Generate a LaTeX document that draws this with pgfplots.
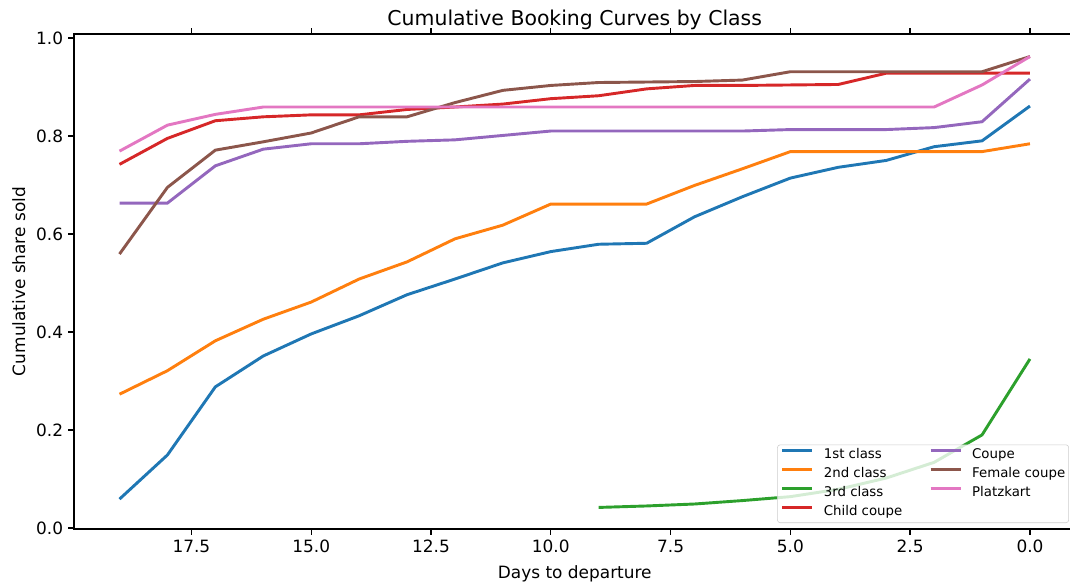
\documentclass[border=0pt]{standalone}
\usepackage{pgfplots}
\usepackage{pgfplotstable}
\pgfplotsset{compat=1.18}
\usepackage{fontspec}
\setmainfont{DejaVu Sans}
\definecolor{tabblue}{HTML}{1F77B4}
\definecolor{taborange}{HTML}{FF7F0E}
\definecolor{tabgreen}{HTML}{2CA02C}
\definecolor{tabred}{HTML}{D62728}
\definecolor{tabpurple}{HTML}{9467BD}
\definecolor{tabbrown}{HTML}{8C564B}
\definecolor{tabpink}{HTML}{E377C2}
\pgfplotstableread{
d first second third child coupe female platz
19 0.059 0.273 nan 0.742 0.663 0.559 0.769
18 0.149 0.321 nan 0.795 0.663 0.695 0.822
17 0.288 0.382 nan 0.831 0.739 0.771 0.844
16 0.351 0.426 nan 0.839 0.773 0.788 0.859
15 0.396 0.461 nan 0.843 0.784 0.806 0.859
14 0.433 0.508 nan 0.843 0.784 0.839 0.859
13 0.476 0.543 nan 0.854 0.789 0.839 0.859
12 0.508 0.590 nan 0.859 0.792 0.868 0.859
11 0.541 0.618 nan 0.865 0.801 0.893 0.859
10 0.564 0.661 nan 0.876 0.810 0.903 0.859
9 0.579 0.661 0.042 0.882 0.810 0.909 0.859
8 0.581 0.661 0.045 0.896 0.810 0.910 0.859
7 0.635 0.699 0.049 0.903 0.810 0.911 0.859
6 0.676 0.733 0.056 0.903 0.810 0.914 0.859
5 0.714 0.768 0.064 0.904 0.813 0.931 0.859
4 0.736 0.768 0.079 0.905 0.813 0.931 0.859
3 0.750 0.768 0.102 0.928 0.813 0.931 0.859
2 0.778 0.768 0.134 0.928 0.817 0.931 0.859
1 0.790 0.768 0.190 0.928 0.829 0.931 0.904
0 0.861 0.784 0.345 0.928 0.916 0.962 0.962
}\booking
\begin{document}
\begin{tikzpicture}
\begin{axis}[
  scale only axis, width=721.08pt, height=356.4pt,
  at={(0,0)}, anchor=south west,
  x dir=reverse, xmin=-0.95, xmax=19.95, ymin=-0.002, ymax=1.008,
  xtick={0,2.5,5,7.5,10,12.5,15,17.5}, ytick={0,0.2,0.4,0.6,0.8,1.0},
  tick align=outside, major tick length=4.3pt,
  tick style={line width=0.98pt, black},
  axis line style={line width=0.98pt},
  ticklabel style={font=\fontsize{12.2}{14}\selectfont},
  /pgf/number format/.cd, fixed, fixed zerofill, precision=1, assume math mode=true,
  /pgfplots/.cd,
  every axis title shift=0pt,
  title={Cumulative Booking Curves by Class},
  title style={at={(axis description cs:0.5,1.018)}, anchor=base, font=\fontsize{14.7}{17}\selectfont},
  xlabel={Days to departure},
  xlabel style={at={(axis description cs:0.5,-0.101)}, anchor=base, font=\fontsize{12.2}{14}\selectfont},
  ylabel={Cumulative share sold},
  ylabel style={at={(axis description cs:-0.0489,0.5)}, anchor=base, font=\fontsize{12.2}{14}\selectfont},
  legend columns=2, legend cell align=left,
  legend image code/.code={\draw[#1] (0pt,3.2pt) -- (21.6pt,3.2pt);},
  legend style={at={(0.9935,0.0121)}, anchor=south east, draw=black!20, rounded corners=2pt,
    fill=white, fill opacity=0.8, text opacity=1, font=\fontsize{9.6}{11}\selectfont,
    inner xsep=2.5pt, inner ysep=3pt, row sep=4.7pt,
    nodes={inner sep=0pt, text height=7pt, text depth=2pt},
    /tikz/every odd column/.append style={column sep=7.2pt},
    /tikz/every even column/.append style={column sep=19.4pt}},
]
\addplot[tabblue, line width=2.1pt, forget plot] table[x=d, y=first] {\booking};
\addplot[taborange, line width=2.1pt, forget plot] table[x=d, y=second] {\booking};
\addplot[tabgreen, line width=2.1pt, forget plot] table[x=d, y=third] {\booking};
\addplot[tabred, line width=2.1pt, forget plot] table[x=d, y=child] {\booking};
\addplot[tabpurple, line width=2.1pt, forget plot] table[x=d, y=coupe] {\booking};
\addplot[tabbrown, line width=2.1pt, forget plot] table[x=d, y=female] {\booking};
\addplot[tabpink, line width=2.1pt, forget plot] table[x=d, y=platz] {\booking};
\addlegendimage{tabblue, line width=2.1pt}\addlegendentry{1st class}
\addlegendimage{tabpurple, line width=2.1pt}\addlegendentry{Coupe}
\addlegendimage{taborange, line width=2.1pt}\addlegendentry{2nd class}
\addlegendimage{tabbrown, line width=2.1pt}\addlegendentry{Female coupe}
\addlegendimage{tabgreen, line width=2.1pt}\addlegendentry{3rd class}
\addlegendimage{tabpink, line width=2.1pt}\addlegendentry{Platzkart}
\addlegendimage{tabred, line width=2.1pt}\addlegendentry{Child coupe}
\end{axis}
\pgfresetboundingbox
\path[use as bounding box] (-53.28pt,-38.88pt) rectangle (717.12pt,380.88pt);
\end{tikzpicture}
\end{document}
